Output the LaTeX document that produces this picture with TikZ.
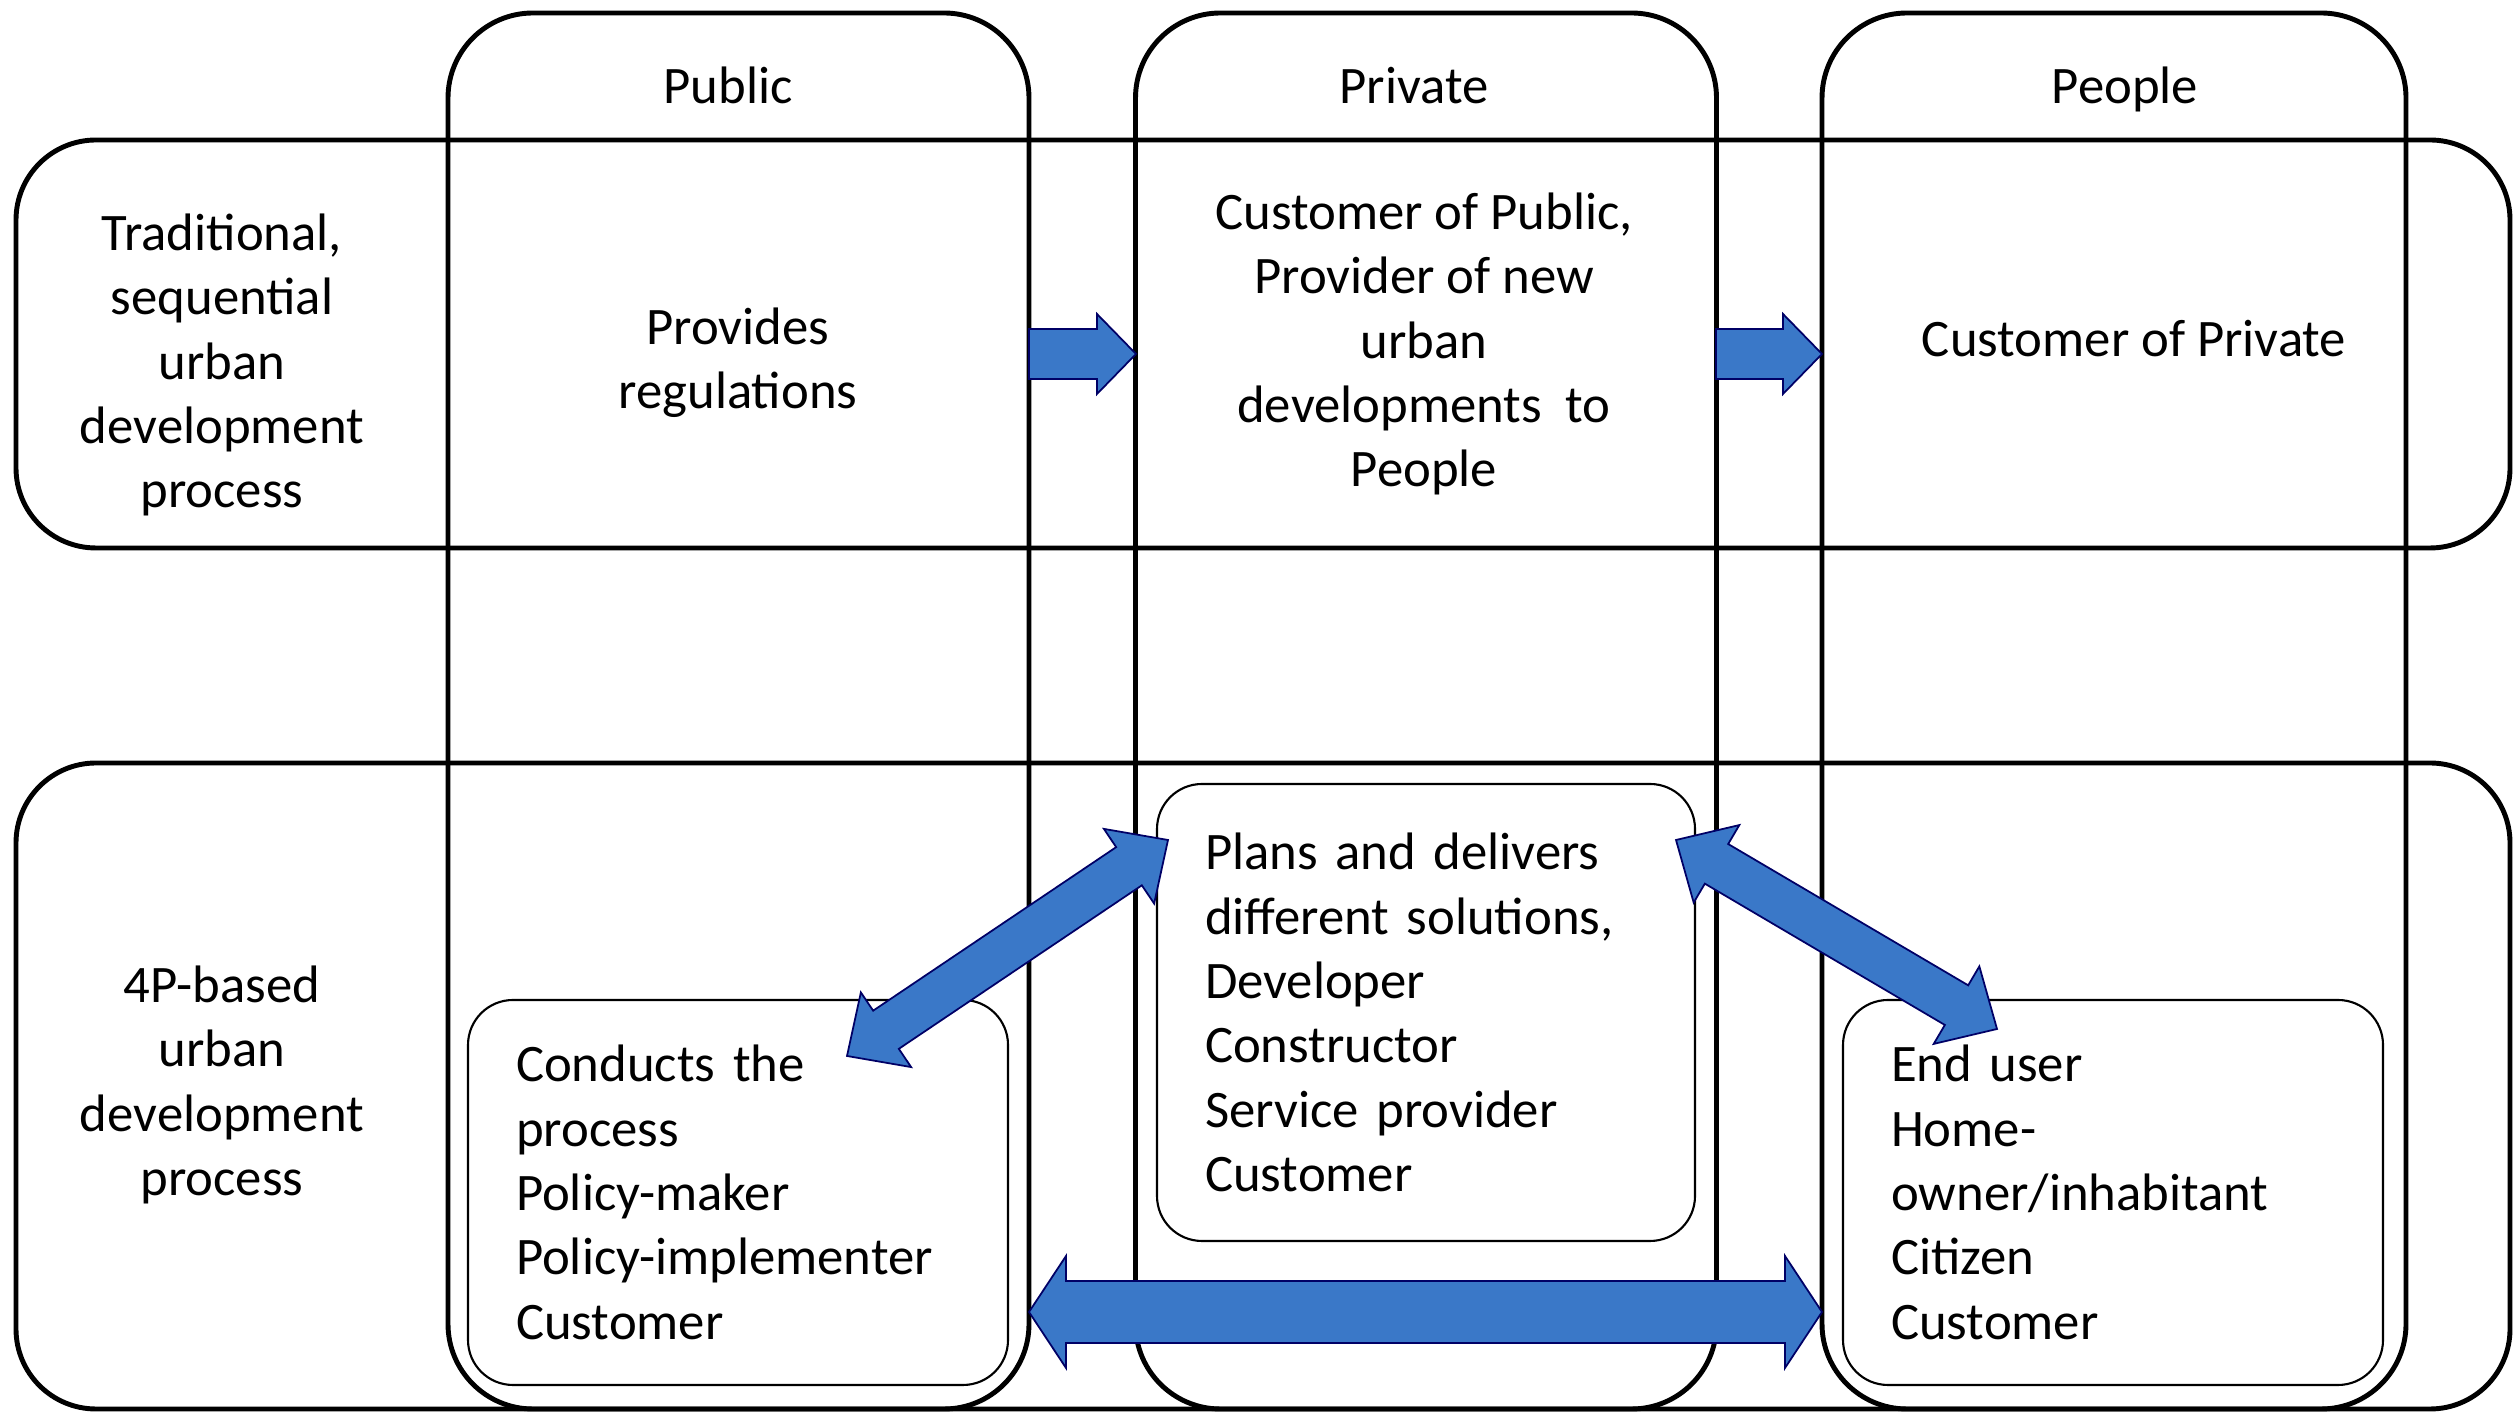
\documentclass[tikz,border=0pt]{standalone}
\usepackage{fontspec}
\setmainfont{Carlito}
\usetikzlibrary{calc, positioning}

\definecolor{arrowblue}{RGB}{58,120,200}

% block arrows: from, to, half shaft, half head, head length
\newcommand{\singleblock}[5]{%
  \filldraw[blockarrow] ($(#1)!#3!90:(#2)$) -- ($(#2)!#5!(#1)!#3!-90:(#1)$)
    -- ($(#2)!#5!(#1)!#4!-90:(#1)$) -- (#2) -- ($(#2)!#5!(#1)!#4!90:(#1)$)
    -- ($(#2)!#5!(#1)!#3!90:(#1)$) -- ($(#1)!#3!-90:(#2)$) -- cycle;}
\newcommand{\doubleblock}[5]{%
  \filldraw[blockarrow] (#1) -- ($(#1)!#5!(#2)!#4!90:(#2)$) -- ($(#1)!#5!(#2)!#3!90:(#2)$)
    -- ($(#2)!#5!(#1)!#3!-90:(#1)$) -- ($(#2)!#5!(#1)!#4!-90:(#1)$) -- (#2)
    -- ($(#2)!#5!(#1)!#4!90:(#1)$) -- ($(#2)!#5!(#1)!#3!90:(#1)$)
    -- ($(#1)!#5!(#2)!#3!-90:(#2)$) -- ($(#1)!#5!(#2)!#4!-90:(#2)$) -- cycle;}

\begin{document}
\begin{tikzpicture}[
    every node/.style={font=\fontsize{15}{18.3}\selectfont},
    colbox/.style={draw, line width=1.4pt, rounded corners=0.85cm, minimum width=5.81cm, minimum height=13.96cm, inner sep=0pt},
    rowbox/.style={draw, line width=1.4pt, rounded corners=0.8cm, minimum width=24.94cm, inner sep=0pt},
    rolebox/.style={draw, line width=0.6pt, rounded corners=0.45cm, text width=4.44cm, inner xsep=0.48cm, align=left},
    label/.style={align=center},
    head/.style={anchor=base},
    blockarrow/.style={fill=arrowblue, draw=black!60!blue, line width=0.5pt}
]
\useasboundingbox (0,0) rectangle (25.2,14.12);

% Colonnes
\node[colbox] (pub) at (7.385,7.01) {};
\node[colbox] (priv) at (14.26,7.01) {};
\node[colbox, minimum width=5.84cm] (peo) at (21.14,7.01) {};

% Lignes
\node[rowbox, minimum height=4.08cm] (trad) at (12.63,10.68) {};
\node[rowbox, minimum height=6.46cm] (fourp) at (12.63,3.26) {};

% En-tetes
\node[head] (pubh) at (7.28,13.08) {Public};
\node[head] (privh) at (14.14,13.08) {Private};
\node[head] (peoh) at (21.25,13.08) {People};

% Processus traditionnel
\node[label] (tradl) at (2.22,10.47) {Traditional,\\sequential\\urban\\development\\process};
\node[label] (reg) at (7.38,10.49) {Provides\\regulations};
\node[label] (dev) at (14.24,10.68) {Customer of Public,\\Provider of new\\urban\\developments\ \ to\\People};
\node[label] (cust) at (21.34,10.73) {Customer of Private};

% Processus 4P
\node[label] (fourpl) at (2.22,3.27) {4P-based\\urban\\development\\process};
\node[rolebox, minimum height=3.85cm] (pubr) at (7.38,2.195) {Conducts the\\process\\Policy-maker\\Policy-implementer\\Customer};
\node[rolebox, minimum height=4.57cm, text width=4.42cm] (privr) at (14.26,3.995) {Plans and delivers\\different solutions,\\Developer\\Constructor\\Service provider\\Customer};
\node[rolebox, minimum height=3.85cm] (peor) at (21.13,2.195) {End user\\Home-\\owner/inhabitant\\Citizen\\Customer};

% Fleches
\coordinate (t1a) at (10.29,10.58);
\coordinate (t1b) at (11.36,10.58);
\coordinate (t2a) at (17.16,10.58);
\coordinate (t2b) at (18.22,10.58);
\singleblock{t1a}{t1b}{0.25cm}{0.40cm}{0.39cm}
\singleblock{t2a}{t2b}{0.25cm}{0.40cm}{0.39cm}

\coordinate (d1a) at (11.68,5.72);
\coordinate (d1b) at (8.47,3.56);
\coordinate (d2a) at (16.76,5.72);
\coordinate (d2b) at (19.97,3.83);
\doubleblock{d1a}{d1b}{0.23cm}{0.45cm}{0.47cm}
\doubleblock{d2a}{d2b}{0.23cm}{0.45cm}{0.47cm}

\coordinate (ha) at (10.29,1.0);
\coordinate (hb) at (18.22,1.0);
\doubleblock{ha}{hb}{0.31cm}{0.56cm}{0.37cm}

\end{tikzpicture}
\end{document}
